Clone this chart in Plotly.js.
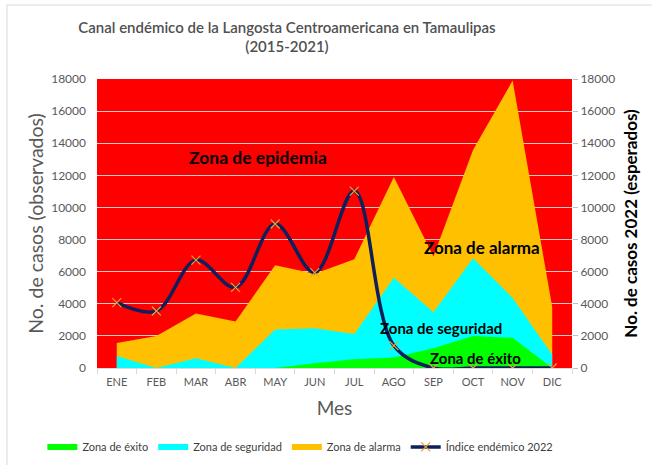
<!DOCTYPE html>
<html>
<head>
<meta charset="utf-8">
<script src="https://cdn.plot.ly/plotly-3.0.1.min.js"></script>
<style>html,body{margin:0;padding:0;background:#fff;}#chart{width:652px;height:465px;}</style>
</head>
<body>
<div id="chart"></div>
<script>
const meses = ["ENE","FEB","MAR","ABR","MAY","JUN","JUL","AGO","SEP","OCT","NOV","DIC"];
const zonaExito = [0, 0, 0, 0, 0, 290, 540, 650, 1230, 2000, 1880, 0];
const zonaSeguridad = [750, 0, 600, 0, 2400, 2470, 2120, 5620, 3480, 6830, 4360, 820];
const zonaAlarma = [1550, 2000, 3400, 2900, 6400, 5870, 6770, 11900, 6950, 13580, 17900, 3800];
const indice2022 = [4070, 3550, 6720, 5020, 8970, 5940, 11020, 1390, 0, 0, 0, 0];
const yTicks = [0, 2000, 4000, 6000, 8000, 10000, 12000, 14000, 16000, 18000];

const FONT = "Lato, Liberation Sans, Arial, sans-serif";
const GRAY = "#595959";

const traces = [
  {x: meses, y: zonaAlarma, name: "Zona de alarma", type: "scatter", mode: "none",
   fill: "tozeroy", fillcolor: "#FFC000", legendrank: 3, hoverinfo: "skip"},
  {x: meses, y: zonaSeguridad, name: "Zona de seguridad", type: "scatter", mode: "none",
   fill: "tozeroy", fillcolor: "#00FFFF", legendrank: 2, hoverinfo: "skip"},
  {x: meses, y: zonaExito, name: "Zona de éxito", type: "scatter", mode: "none",
   fill: "tozeroy", fillcolor: "#00FF00", legendrank: 1, hoverinfo: "skip"},
  {x: meses, y: indice2022, name: "Índice endémico 2022", type: "scatter", mode: "lines+markers",
   yaxis: "y2", legendrank: 4,
   line: {color: "#0E1F5B", width: 3.5, shape: "spline", smoothing: 1},
   marker: {symbol: "x-thin", size: 9, line: {color: "#E8A33A", width: 1.2}, color: "#E8A33A"}}
];

const layout = {
  width: 652, height: 465,
  margin: {l: 97, r: 80, t: 79, b: 97, autoexpand: false},
  paper_bgcolor: "#ffffff",
  plot_bgcolor: "#FF0000",
  font: {family: FONT, color: GRAY, size: 11},
  title: {
    text: "Canal endémico de la Langosta Centroamericana en Tamaulipas<br>(2015-2021)",
    font: {family: FONT, size: 15, color: "#505050", weight: 600},
    xref: "paper", x: 0.4, xanchor: "center",
    yref: "container", y: 0.93, yanchor: "top"
  },
  xaxis: {
    type: "category", categoryorder: "array", categoryarray: meses,
    range: [-0.5, 11.5], automargin: false,
    showgrid: false, showline: true, linecolor: "#D9D9D9", linewidth: 1,
    ticks: "outside", tickson: "boundaries", ticklen: 5, tickcolor: "#D9D9D9",
    tickangle: 0, ticklabelstandoff: 4,
    tickfont: {size: 11, color: GRAY, family: FONT},
    title: {text: "Mes", font: {size: 19, color: GRAY, family: FONT}, standoff: 14},
    fixedrange: true
  },
  yaxis: {
    range: [0, 18000], tickvals: yTicks, ticktext: yTicks.map(String), automargin: false,
    showgrid: true, gridcolor: "#E8C8C8", gridwidth: 1,
    zeroline: false, showline: false, ticks: "", ticklabelstandoff: 10,
    tickfont: {size: 12, color: GRAY, family: FONT},
    title: {text: "No. de casos (observados)", font: {size: 19.5, color: GRAY, family: FONT}, standoff: 2},
    fixedrange: true
  },
  yaxis2: {
    overlaying: "y", side: "right", automargin: false,
    range: [0, 18000], tickvals: yTicks, ticktext: yTicks.map(String),
    showgrid: false, zeroline: false, showline: false,
    ticks: "outside", ticklen: 5, tickcolor: "#BFBFBF",
    tickfont: {size: 12, color: GRAY, family: FONT},
    title: {text: "<b>No. de casos 2022 (esperados)</b>", font: {size: 17, color: "#000000", family: FONT}, standoff: 10},
    fixedrange: true
  },
  showlegend: true,
  legend: {
    orientation: "h", xref: "paper", x: -0.115, xanchor: "left",
    yref: "paper", y: -0.273, yanchor: "middle",
    font: {size: 11, color: "#404040", family: FONT},
    traceorder: "normal", bgcolor: "rgba(0,0,0,0)"
  },
  annotations: [
    {x: 3.56, y: 13080, xref: "x", yref: "y", text: "<b>Zona de epidemia</b>", showarrow: false,
     font: {size: 17.5, color: "#000", family: FONT}},
    {x: 9.22, y: 7530, xref: "x", yref: "y", text: "<b>Zona de alarma</b>", showarrow: false,
     font: {size: 17, color: "#000", family: FONT}},
    {x: 8.18, y: 2510, xref: "x", yref: "y", text: "<b>Zona de seguridad</b>", showarrow: false,
     font: {size: 15, color: "#000", family: FONT}},
    {x: 9.05, y: 600, xref: "x", yref: "y", text: "<b>Zona de éxito</b>", showarrow: false,
     font: {size: 15, color: "#000", family: FONT}}
  ],
  shapes: [
    {type: "rect", xref: "paper", yref: "paper", x0: -0.1895, x1: 1.2, y0: -0.36, y1: 1.256,
     line: {color: "#D9D9D9", width: 1}, fillcolor: "rgba(0,0,0,0)", layer: "below"}
  ]
};

Plotly.newPlot("chart", traces, layout, {displayModeBar: false, staticPlot: true});
</script>
</body>
</html>
